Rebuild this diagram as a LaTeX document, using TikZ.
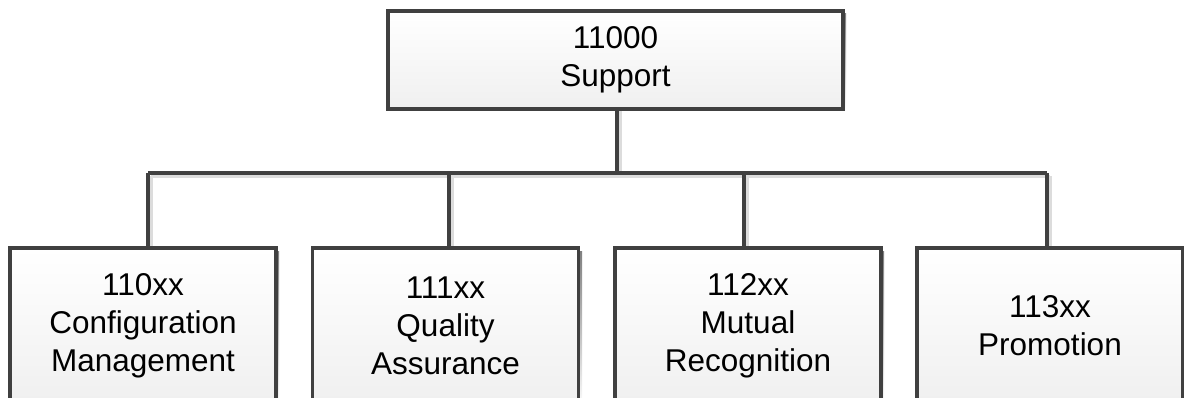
\documentclass[tikz,border=0pt]{standalone}
\usepackage{fontspec}
\setmainfont{Liberation Sans}
\usetikzlibrary{positioning}
\definecolor{edge}{HTML}{404040}
\definecolor{shade}{HTML}{DCDCDC}
\begin{document}
\begin{tikzpicture}[x=1pt,y=-1pt,
  box/.style={draw=edge, line width=3.4pt, top color=white, bottom color=black!6,
    align=center, inner sep=0pt, font=\fontsize{31.5pt}{38pt}\selectfont},
  topbox/.style={box, minimum width=455pt, minimum height=98pt},
  leafbox/.style={box, minimum width=266pt, minimum height=156pt},
  link/.style={draw=edge, line width=3.4pt},
  linkshadow/.style={draw=shade, line width=3pt}]
\useasboundingbox (0,0) rectangle (1184,397);
\clip (0,0) rectangle (1184,397);
% coordinates on the bus
\coordinate (j) at (617,173);
\coordinate (c1) at (148,173);
\coordinate (c2) at (449,173);
\coordinate (c3) at (744,173);
\coordinate (c4) at (1047,173);
% box shadows
\fill[shade] (391,13) rectangle (846,111);
\foreach \x in {13,316,618,921} \fill[shade] (\x,251) rectangle (\x+266,410);
% connector shadows
\draw[linkshadow] ([shift={(3,3)}]c1) -- ([shift={(3,3)}]c4);
\draw[linkshadow] ([shift={(3,0)}]j) -- (620,108);
\foreach \c in {c1,c2,c3,c4} \draw[linkshadow] ([shift={(3,3)}]\c) -- ++(0,75);
% nodes
\node[topbox] (top) at (615.5,60) {11000\\Support};
\node[leafbox] (b1) at (143,326) {110xx\\Configuration\\Management};
\node[leafbox] (b2) at (445.5,326) {111xx\\Quality\\Assurance};
\node[leafbox] (b3) at (748,326) {112xx\\Mutual\\Recognition};
\node[leafbox] (b4) at (1050,326) {113xx\\Promotion};
% connectors
\draw[link] (top.south -| j) -- (j);
\draw[link] (c1) -- (c4);
\draw[link] (c1) -- (b1.north -| c1);
\draw[link] (c2) -- (b2.north -| c2);
\draw[link] (c3) -- (b3.north -| c3);
\draw[link] (c4) -- (b4.north -| c4);
\end{tikzpicture}
\end{document}
